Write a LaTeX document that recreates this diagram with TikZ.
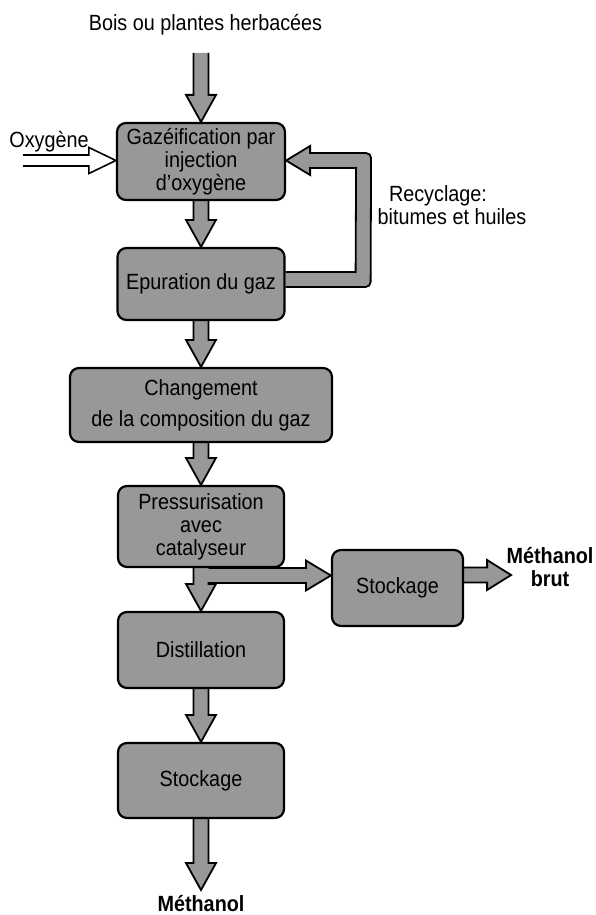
\documentclass[tikz,border=0pt]{standalone}
\usepackage{fontspec}
\setmainfont{Liberation Sans}[FakeStretch=0.9]
\usetikzlibrary{calc,backgrounds}
\definecolor{boxgray}{RGB}{152,152,152}

% thick grey arrow pointing down, from #1 to #2
\newcommand\fatdown[2]{%
  \draw[flow] ($(#1)+(-7.5,0)$) -- ($(#2)+(-7.5,27)$) -- ($(#2)+(-15,27)$) -- (#2)
    -- ($(#2)+(15,27)$) -- ($(#2)+(7.5,27)$) -- ($(#1)+(7.5,0)$);}
% thick grey arrow pointing right, from #1 to #2
\newcommand\fatright[2]{%
  \draw[flow] ($(#1)+(0,7.5)$) -- ($(#2)+(-24,7.5)$) -- ($(#2)+(-24,15)$) -- (#2)
    -- ($(#2)+(-24,-15)$) -- ($(#2)+(-24,-7.5)$) -- ($(#1)+(0,-7.5)$);}

\begin{document}
\begin{tikzpicture}[x=1pt,y=1pt,
  box/.style={draw,line width=2.2pt,fill=boxgray,rounded corners=9pt,align=center,
    minimum height=75pt,inner sep=2pt,font=\fontsize{22}{23}\selectfont},
  flow/.style={draw,line width=1.8pt,fill=boxgray,line join=miter},
  oxy/.style={draw,line width=1.6pt,fill=white},
  lbl/.style={font=\fontsize{22}{23}\selectfont,align=center}]
\useasboundingbox (0,0) rectangle (596,-915);

% process boxes
\node[box,minimum width=168pt,minimum height=77pt] (gaz) at (201,-161.5) {Gazéification par\\injection\\d’oxygène};
\node[box,minimum width=167pt,minimum height=72pt] (epu) at (201,-284) {Epuration du gaz};
\node[box,minimum width=262pt,minimum height=74pt] (chg) at (201,-405) {Changement\\[8pt]de la composition du gaz};
\node[box,minimum width=166pt,minimum height=81pt] (pre) at (201,-526.5) {Pressurisation\\avec\\catalyseur};
\node[box,minimum width=166pt,minimum height=76pt] (dis) at (201,-650) {Distillation};
\node[box,minimum width=131pt,minimum height=76pt] (sto1) at (397.5,-588) {Stockage};
\node[box,minimum width=166pt] (sto2) at (201,-780.5) {Stockage};

% labels
\node[lbl,anchor=base] (bois) at (205.5,-31) {Bois ou plantes herbacées};
\node[lbl,anchor=base] (oxl) at (49,-147) {Oxygène};
\node[lbl,anchor=base] (recy1) at (438,-201) {Recyclage:};
\node[lbl,anchor=base] (recy2) at (452,-224) {bitumes et huiles};
\node[lbl,font=\fontsize{22}{23}\bfseries] (brut) at (550,-567) {Méthanol\\brut};
\node[lbl,font=\fontsize{22}{23}\bfseries,anchor=base] (meth) at (201,-911) {Méthanol};

\coordinate (in) at (201,-53);
\coordinate (out) at (201,-890);
\coordinate (oxin) at (23,-160.5);
\coordinate (tipB) at ($(sto1.west)+(0,12.5)$);
\coordinate (tipC) at ($(sto1.east)+(47,13)$);
\coordinate (recA) at ($(epu.east)+(0,4.5)$);
\coordinate (recB) at ($(gaz.east)+(0,1)$);

\begin{scope}[on background layer]
\fatdown{in}{gaz.north}
\fatdown{gaz.south}{epu.north}
\fatdown{epu.south}{chg.north}
\fatdown{chg.south}{pre.north}
\fatdown{dis.south}{sto2.north}
\fatdown{sto2.south}{out}
% down to distillation, with branch to the first storage
\draw[flow] ($(pre.south)+(-7.5,0)$) -- ($(dis.north)+(-7.5,27)$) -- ($(dis.north)+(-15,27)$) -- (dis.north)
  -- ($(dis.north)+(15,27)$) -- ($(dis.north)+(7.5,27)$) -- ($(pre.south |- tipB)+(7.5,-7.5)$)
  -- ($(tipB)+(-25,-7.5)$) -- ($(tipB)+(-25,-15)$) -- (tipB) -- ($(tipB)+(-25,15)$)
  -- ($(tipB)+(-25,7.5)$) -- ($(pre.south |- tipB)+(7.5,7.5)$) -- ($(pre.south)+(7.5,0)$);
\fatright{sto1.east |- tipC}{tipC}
% recycling loop
\draw[flow] ($(recA)+(0,-7.5)$) [rounded corners=5pt] -- ($(recA)+(85,-7.5)$) -- ($(recB)+(85,7.5)$)
  [sharp corners] -- ($(recB)+(24,7.5)$) -- ($(recB)+(24,14.5)$) -- (recB) -- ($(recB)+(24,-14.5)$)
  -- ($(recB)+(24,-7.5)$) -- ($(recB)+(70,-7.5)$) -- ($(recA)+(70,7.5)$) -- ($(recA)+(0,7.5)$);
% oxygen inlet
\draw[oxy] ($(oxin)+(0,5.5)$) -- ($(gaz.west |- oxin)+(-27,5.5)$) -- ($(gaz.west |- oxin)+(-27,13)$)
  -- (gaz.west |- oxin) -- ($(gaz.west |- oxin)+(-27,-13)$) -- ($(gaz.west |- oxin)+(-27,-5.5)$)
  -- ($(oxin)+(0,-5.5)$);
\end{scope}
\end{tikzpicture}
\end{document}
